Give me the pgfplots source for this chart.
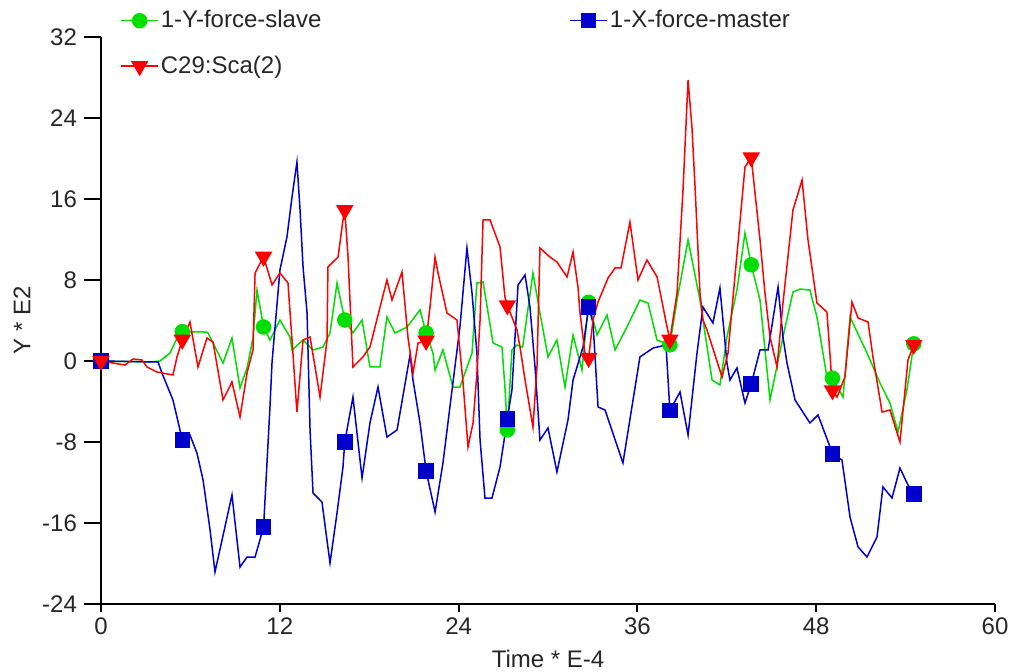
\documentclass[border=0pt]{standalone}
\usepackage{fontspec}
\setmainfont{Liberation Sans}
\usepackage{pgfplots}
\usepackage{pgfplotstable}
\pgfplotsset{compat=1.18}
\definecolor{cgreen}{RGB}{0,221,0}
\definecolor{cblue}{RGB}{0,0,204}
\definecolor{cred}{RGB}{255,0,0}

\pgfplotstableread{
x y
0 0
3.29 -0.1
3.96 0
4.63 0.79
5.30 2.86
5.455 2.9
7.11 2.86
7.18 2.77
8.19 -0.2
8.79 2.27
9.33 -2.67
9.80 -0.69
10.20 2.27
10.47 7.01
10.91 3.36
11.34 2.07
12.01 4.05
12.68 2.37
12.82 1.09
13.56 2.07
14.23 1.09
14.90 1.38
15.37 2.77
15.84 7.7
16.36 4.05
16.91 2.77
17.52 4.05
18.05 -0.59
18.72 -0.59
19.19 4.35
19.73 2.77
20.54 3.36
21.41 5.04
21.82 2.77
22.28 0.79
22.42 -0.89
22.95 1.09
23.62 -2.57
24.09 -2.57
24.90 0.79
25.23 7.7
25.64 7.8
26.31 1.78
26.91 1.38
27.11 -2.57
27.27 -6.8
27.58 1.09
27.92 1.58
28.30 1.38
28.99 8.69
29.46 4.74
30.00 0.4
30.60 2.07
31.14 -2.57
31.68 2.57
32.28 -0.89
32.73 5.8
33.29 2.57
33.96 4.54
34.50 1.09
35.30 3.36
36.17 6.02
36.71 5.73
37.32 2.07
38.18 1.6
38.66 6.02
39.40 11.95
40.20 6.02
41.01 -1.88
41.54 -2.37
42.01 2.37
42.68 7.01
43.22 12.64
43.64 9.5
44.23 6.02
44.90 -3.85
45.77 2.37
46.44 6.81
46.91 7.11
47.58 7.01
48.05 4.35
48.72 -1.58
49.09 -1.7
49.80 -3.56
50.27 4.35
51.41 0.79
52.28 -2.17
52.95 -4.15
53.49 -7.01
54.09 -2.86
54.55 1.7
}\greenline

\pgfplotstableread{
x y
0 0
5.455 2.9
10.91 3.36
16.36 4.05
21.82 2.77
27.27 -6.8
32.73 5.8
38.18 1.6
43.64 9.5
49.09 -1.7
54.55 1.7
}\greenmarks

\pgfplotstableread{
x y
0 0
3.83 -0.1
4.09 -1.19
4.83 -3.85
5.30 -6.81
5.455 -7.8
5.97 -7.31
6.44 -9.09
6.85 -11.75
7.32 -16.69
7.65 -20.84
8.79 -13.23
9.33 -20.35
9.80 -19.36
10.34 -19.36
10.91 -16.4
11.14 -10.07
11.34 -4.54
11.48 -0.1
12.01 8.99
12.48 12.25
12.82 16.2
13.15 19.65
13.36 14.91
13.56 9.28
13.83 4.74
14.03 -6.81
14.23 -13.04
14.83 -13.93
15.37 -19.95
15.84 -15.01
16.24 -10.47
16.36 -8.0
16.91 -3.56
17.52 -11.56
18.05 -6.12
18.59 -2.57
19.19 -7.51
19.87 -6.81
20.74 0.59
20.94 -1.88
21.41 -6.12
21.82 -10.86
22.42 -14.91
22.95 -10.07
23.56 -2.86
24.09 3.36
24.56 11.16
24.90 6.72
25.23 0.79
25.44 -7.8
25.77 -13.53
26.24 -13.53
26.78 -10.47
27.27 -5.73
27.58 -2.86
27.99 7.51
28.46 8.49
28.79 5.33
29.13 -0.59
29.46 -7.8
30.00 -6.62
30.60 -10.96
31.34 -5.83
31.68 -1.88
32.35 1.38
32.73 5.33
33.02 3.75
33.36 -4.54
33.83 -4.84
35.03 -10.07
36.17 0.4
37.05 1.28
37.92 1.58
38.18 -4.9
38.86 -3.06
39.40 -7.31
40.00 0.79
40.40 5.33
41.07 3.75
41.54 7.21
42.01 -0.2
42.21 -1.88
42.68 -0.69
43.22 -4.15
43.64 -2.27
44.23 1.09
44.77 1.09
45.44 7.31
45.77 2.37
46.04 -0.2
46.58 -3.85
47.58 -6.12
48.12 -5.33
48.93 -8.49
49.09 -9.19
49.73 -9.78
50.27 -15.41
50.81 -18.37
51.41 -19.36
52.08 -17.38
52.48 -12.44
53.09 -13.53
53.62 -10.57
54.16 -12.25
54.55 -13.14
}\blueline

\pgfplotstableread{
x y
0 0
5.455 -7.8
10.91 -16.4
16.36 -8.0
21.82 -10.86
27.27 -5.73
32.73 5.33
38.18 -4.9
43.64 -2.27
49.09 -9.19
54.55 -13.14
}\bluemarks

\pgfplotstableread{
x y
0 0
1.61 -0.4
2.15 0.2
2.75 0.1
3.09 -0.59
3.76 -1.09
4.83 -1.38
5.10 0.4
5.455 2.1
5.97 3.85
6.51 -0.59
7.11 2.27
7.52 1.88
8.19 -3.85
8.79 -2.07
9.33 -5.53
9.80 -1.19
10.20 1.09
10.34 8.69
10.91 10.3
11.48 7.51
12.01 8.69
12.55 7.7
12.82 2.07
13.15 -5.04
13.56 2.07
14.03 2.37
14.70 -3.56
15.17 2.07
15.23 9.28
15.91 10.27
16.24 13.93
16.36 14.9
16.58 10.27
16.91 -0.59
17.58 0.4
18.05 1.38
19.19 8.0
19.53 6.02
20.20 8.79
20.60 2.37
20.94 -1.19
21.28 1.78
21.82 2.0
22.08 5.33
22.42 10.27
22.62 8.69
23.22 4.74
23.89 4.05
24.30 -2.17
24.63 -8.49
24.97 -6.12
25.23 -1.19
25.44 4.05
25.64 13.93
26.11 13.93
26.78 11.26
27.11 6.32
27.27 5.5
27.92 3.06
28.12 1.38
28.46 -1.88
28.99 -6.52
29.26 -0.59
29.46 11.16
30.13 10.27
30.60 9.78
31.28 8.3
31.68 10.77
32.01 7.31
32.15 4.74
32.48 0.79
32.73 0.3
33.02 4.05
33.36 5.83
34.03 8.2
34.50 9.19
34.90 9.19
35.50 13.73
36.04 8.0
36.64 9.98
37.32 8.3
37.99 3.36
38.18 2.1
38.66 6.72
39.06 16.89
39.40 27.75
39.66 23.11
39.87 17.19
40.20 6.72
40.40 4.05
40.67 3.06
41.68 -1.58
42.08 0.79
42.42 6.32
43.22 19.16
43.64 20.1
44.23 11.95
44.56 6.72
44.90 2.37
45.37 -0.59
45.77 5.73
46.44 14.91
47.05 17.88
47.45 11.95
48.05 5.73
48.72 4.84
48.95 0.1
49.09 -2.9
49.40 -3.56
49.93 -1.58
50.40 5.83
50.81 4.25
51.48 3.85
51.81 0.4
52.42 -5.04
52.95 -4.84
53.62 -8.0
54.16 0.1
54.55 1.6
}\redline

\pgfplotstableread{
x y
0 0
5.455 2.1
10.91 10.3
16.36 14.9
21.82 2.0
27.27 5.5
32.73 0.3
38.18 2.1
43.64 20.1
49.09 -2.9
54.55 1.6
}\redmarks

\begin{document}
\begin{tikzpicture}
% x tick marks only (shorter than the y ticks)
\begin{axis}[
  at={(0pt,0pt)}, anchor=south west,
  scale only axis, width=447pt, height=283.5pt,
  xmin=0, xmax=60, ymin=-24, ymax=32,
  axis x line*=bottom, axis y line=none,
  xtick={0,12,...,60}, xticklabels={},
  tick align=outside, major tick length=4pt,
  tick style={line width=1pt, black},
  axis line style={line width=1pt, black},
]
\end{axis}
\begin{axis}[
  at={(0pt,0pt)}, anchor=south west,
  scale only axis, width=447pt, height=283.5pt,
  xmin=0, xmax=60, ymin=-24, ymax=32,
  xtick={0,12,...,60}, ytick={-24,-16,...,32},
  axis lines*=left,
  axis line style={line width=1pt, black},
  tick align=outside, major tick length=8.5pt,
  tick style={line width=1pt, black},
  xtick style={draw=none},
  /pgf/number format/assume math mode=true,
  font=\fontsize{12}{14}\selectfont,
  ticklabel style={font=\fontsize{12}{14}\selectfont, text=black!85},
  xticklabel style={yshift=5pt},
  label style={font=\fontsize{12}{14}\selectfont, text=black!85},
  xlabel={Time * E-4}, ylabel={Y * E2},
  xlabel style={at={(axis description cs:0.5,-0.097)}, anchor=center},
  ylabel style={at={(axis description cs:-0.0884,0.5)}, anchor=center},
  clip=false,
  legend columns=2,
  legend style={at={(0.02125,1.051)}, anchor=north west, draw=none, fill=none,
    inner sep=0pt, row sep=10.5pt,
    nodes={inner sep=1pt, text=black!85, font=\fontsize{12}{14}\selectfont},
    /tikz/every even column/.append style={column sep=123pt}},
  legend cell align=left,
  legend image code/.code={\draw[sharp plot, mark repeat=2, mark phase=2] plot coordinates {(0pt,0pt) (9.25pt,0pt) (18.5pt,0pt)};},
]
\addplot[cgreen, line width=0.75pt, forget plot] table {\greenline};
\addplot[cgreen, line width=0.75pt, only marks, mark=*, mark size=3.5pt, mark options={solid, fill=cgreen, draw=cgreen}] table {\greenmarks};
\addlegendentry{1-Y-force-slave}
\addplot[cblue, line width=0.75pt, forget plot] table {\blueline};
\addplot[cblue, line width=0.75pt, only marks, mark=square*, mark size=3.5pt, mark options={solid, fill=cblue, draw=cblue}] table {\bluemarks};
\addlegendentry{1-X-force-master}
\addplot[cred, line width=0.75pt, forget plot] table {\redline};
\addplot[cred, line width=0.75pt, only marks, mark=triangle*, mark size=4.3pt, mark options={solid, fill=cred, draw=cred, rotate=180}] table {\redmarks};
\addlegendentry{C29:Sca(2)}
\end{axis}
\pgfresetboundingbox
\path[use as bounding box] (-50.5pt,-33.5pt) rectangle (457.5pt,302pt);
\end{tikzpicture}
\end{document}
